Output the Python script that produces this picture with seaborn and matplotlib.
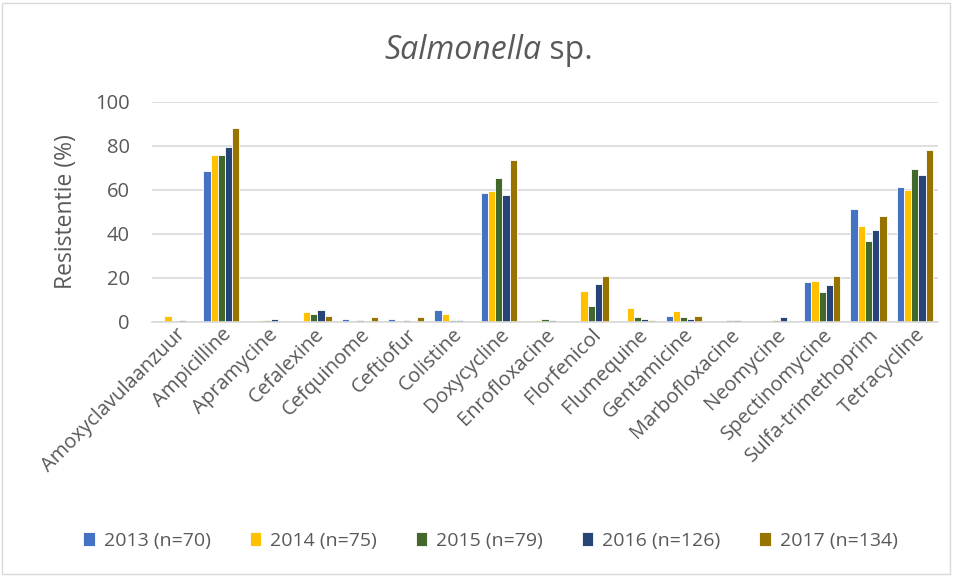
import matplotlib
matplotlib.use("Agg")
import matplotlib.pyplot as plt
import seaborn as sns
import pandas as pd
from matplotlib.patches import Rectangle

categories = ["Amoxyclavulaanzuur", "Ampicilline", "Apramycine", "Cefalexine", "Cefquinome",
              "Ceftiofur", "Colistine", "Doxycycline", "Enrofloxacine", "Florfenicol",
              "Flumequine", "Gentamicine", "Marbofloxacine", "Neomycine", "Spectinomycine",
              "Sulfa-trimethoprim", "Tetracycline"]
series_names = ["2013 (n=70)", "2014 (n=75)", "2015 (n=79)", "2016 (n=126)", "2017 (n=134)"]
v2013 = [0, 68.5, 0, 0, 1.2, 1.2, 5.5, 58.5, 0, 0, 0, 2.7, 0, 0, 18.3, 51.2, 61.2]
v2014 = [2.7, 76, 1.0, 4.4, 0, 0, 3.6, 59.7, 0.9, 14.1, 6.5, 5.0, 0, 0, 18.5, 43.8, 59.9]
v2015 = [0, 76, 1.0, 3.5, 1.0, 1.1, 1.1, 65.6, 1.2, 7.4, 2.3, 2.3, 1.1, 1.1, 13.6, 36.7, 69.4]
v2016 = [0.8, 79.3, 1.4, 5.3, 0, 0, 0.8, 57.9, 0.7, 17.1, 1.4, 1.4, 0.7, 2.3, 16.8, 42.0, 66.7]
v2017 = [0.5, 88, 0, 2.7, 2.4, 2.2, 0, 73.6, 0, 20.8, 1.1, 2.7, 0, 0, 20.8, 48.3, 78.2]
colors = ["#4472C4", "#FFC000", "#43682B", "#264478", "#997300"]

rows = []
for name, vals in zip(series_names, [v2013, v2014, v2015, v2016, v2017]):
    for c, v in zip(categories, vals):
        rows.append({"cat": c, "series": name, "val": v})
df = pd.DataFrame(rows)

sns.set_theme(style="white")
plt.rcParams["font.family"] = ["Open Sans", "DejaVu Sans"]
txt = "#595959"

fig = plt.figure(figsize=(9.56, 5.76), dpi=100)
ax = fig.add_axes([0.159, 0.441, 0.822, 0.382])
sns.barplot(data=df, x="cat", y="val", hue="series", order=categories,
            hue_order=series_names, palette=colors, saturation=1, width=0.78,
            linewidth=0.6, edgecolor="white", ax=ax, legend=True)
ax.set_ylim(0, 100)
ax.set_xlim(-0.5, len(categories) - 0.5)
ax.set_yticks([0, 20, 40, 60, 80, 100])
ax.yaxis.grid(True, color="#D9D9D9", linewidth=1.2)
ax.set_axisbelow(True)
for s in ["top", "right", "left"]:
    ax.spines[s].set_visible(False)
ax.spines["bottom"].set_color("#D9D9D9")
ax.spines["bottom"].set_linewidth(1.2)
ax.tick_params(axis="both", length=0, colors=txt, labelsize=14.5)
ax.tick_params(axis="x", pad=2)
ax.tick_params(axis="y", pad=16)
plt.setp(ax.get_xticklabels(), rotation=45, ha="right", rotation_mode="anchor")
ax.set_xlabel("")
ax.set_ylabel("Resistentie (%)", color=txt, fontsize=16.5, labelpad=12)

fig.text(0.566, 0.913, "Salmonella", style="italic", color=txt, fontsize=23, ha="right", va="center")
fig.text(0.566, 0.913, " sp.", color=txt, fontsize=23, ha="left", va="center")

h, l = ax.get_legend_handles_labels()
ax.legend_.remove()
fig.legend(h, l, loc="center", bbox_to_anchor=(0.513, 0.061), ncol=5, frameon=False,
           fontsize=14, labelcolor=txt, handlelength=0.6, handleheight=0.7,
           columnspacing=2.0, handletextpad=0.45)

fig.patches.append(Rectangle((0.002, 0.004), 0.992, 0.99, transform=fig.transFigure,
                             fill=False, edgecolor="#D9D9D9", linewidth=1))
fig.savefig("out.png", dpi=100)
